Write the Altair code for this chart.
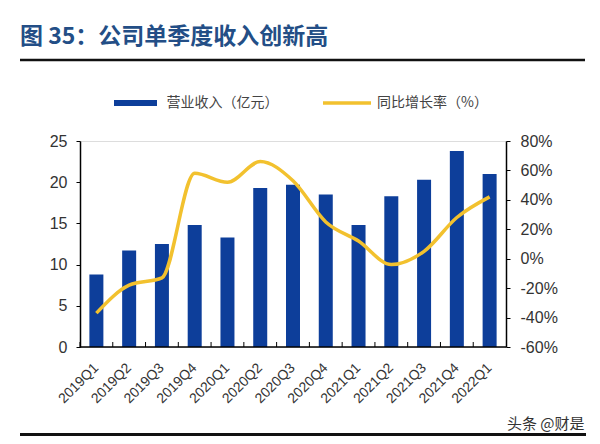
import altair as alt
import pandas as pd

quarters = ["2019Q1", "2019Q2", "2019Q3", "2019Q4", "2020Q1", "2020Q2", "2020Q3",
            "2020Q4", "2021Q1", "2021Q2", "2021Q3", "2021Q4", "2022Q1"]
revenue = [8.8, 11.7, 12.5, 14.8, 13.3, 19.3, 19.7, 18.5, 14.8, 18.3, 20.3, 23.8, 21.0]
yoy = [-37, -18, -13, 58, 52, 66, 53, 25, 12, -4, 5, 28, 42]

BAR_NAME = "营业收入（亿元）"
LINE_NAME = "同比增长率（%）"
BLUE = "#0D3E9A"
YELLOW = "#F2C12E"
CJK = "Noto Sans CJK SC"
LATIN = "Liberation Sans"

df = pd.DataFrame({"quarter": quarters, "revenue": revenue, "yoy": yoy,
                   "s1": BAR_NAME, "s2": LINE_NAME})
one = pd.DataFrame({"k": [0]})

x_axis = alt.Axis(labels=False, ticks=False, domain=False)
x_scale = alt.Scale(paddingInner=0, paddingOuter=0)


def xenc(**kw):
    return alt.X("quarter:N", sort=quarters, title=None, scale=x_scale, axis=x_axis, **kw)


bars = alt.Chart(df).mark_bar(size=14).encode(
    x=xenc(),
    y=alt.Y("revenue:Q", title=None,
            scale=alt.Scale(domain=[0, 25], nice=False),
            axis=alt.Axis(values=[0, 5, 10, 15, 20, 25], grid=False, domainColor="#000000",
                          domainWidth=1.5, tickColor="#000000", tickSize=4,
                          labelFontSize=16, labelFont=LATIN, labelColor="#333333",
                          labelPadding=9)),
    fill=alt.Fill("s1:N", scale=alt.Scale(range=[BLUE]),
                  legend=alt.Legend(title=None, orient="none", legendX=48.5, legendY=-45,
                                    symbolType="M-4.3,-0.6H4.3V0.6H-4.3Z", symbolSize=100,
                                    symbolStrokeWidth=0, labelOffset=24, padding=0,
                                    labelFont=CJK, labelFontSize=14, labelColor="#444444")),
)

line = alt.Chart(df).mark_line(interpolate="monotone", strokeWidth=3.5).encode(
    x=xenc(),
    y=alt.Y("yoy:Q", title=None,
            scale=alt.Scale(domain=[-60, 80], nice=False),
            axis=alt.Axis(orient="right", values=[-60, -40, -20, 0, 20, 40, 60, 80],
                          labelExpr="datum.value + '%'", grid=False, domainColor="#000000",
                          domainWidth=1.5, tickColor="#000000", tickSize=4,
                          labelFontSize=16, labelFont=LATIN, labelColor="#333333",
                          labelPadding=10)),
    stroke=alt.Stroke("s2:N", scale=alt.Scale(range=[YELLOW]),
                      legend=alt.Legend(title=None, orient="none", legendX=241, legendY=-64,
                                        symbolType="stroke", symbolSize=2304,
                                        symbolStrokeWidth=3.5, labelOffset=4, padding=0,
                                        labelFont=CJK, labelFontSize=14, labelColor="#444444")),
)

x_labels = alt.Chart(df).mark_text(
    angle=315, align="right", baseline="middle", font=LATIN, fontSize=14, color="#333333"
).encode(x=xenc(), y=alt.value(225), text="quarter:N")

ticks = alt.Chart(df).mark_rule(color="#000000", strokeWidth=1).encode(
    x=xenc(bandPosition=0),
    y=alt.value(201), y2=alt.value(206),
)

x_domain = alt.Chart(one).mark_rule(color="#000000", strokeWidth=1.5).encode(
    x=alt.value(0), x2=alt.value(426), y=alt.value(206))

title = alt.Chart(one).mark_text(
    text="图 35：公司单季度收入创新高", font=CJK, fontSize=23, fontWeight="bold",
    color="#234E86", align="left", baseline="middle"
).encode(x=alt.value(-60), y=alt.value(-104))

title_rule = alt.Chart(one).mark_rule(color="#111111", strokeWidth=2.5).encode(
    x=alt.value(-60), x2=alt.value(505), y=alt.value(-81))

watermark = alt.Chart(one).mark_text(
    text="头条 @财是", font=CJK, fontSize=15, color="#333333", align="left",
    baseline="middle"
).encode(x=alt.value(427), y=alt.value(283))

bottom_rule = alt.Chart(one).mark_rule(color="#111111", strokeWidth=3).encode(
    x=alt.value(-60), x2=alt.value(506), y=alt.value(293.5))

chart = alt.layer(bars, line, x_labels, ticks, x_domain, title, title_rule, watermark,
                  bottom_rule).resolve_scale(
    y="independent"
).properties(
    width=426, height=206,
    autosize=alt.AutoSizeParams(type="none"),
    padding={"left": 72, "top": 133, "right": 86, "bottom": 89},
).configure_view(stroke=None).configure(background="#FFFFFF")

chart.save("out.html", embed_options={"renderer": "svg", "actions": False})
